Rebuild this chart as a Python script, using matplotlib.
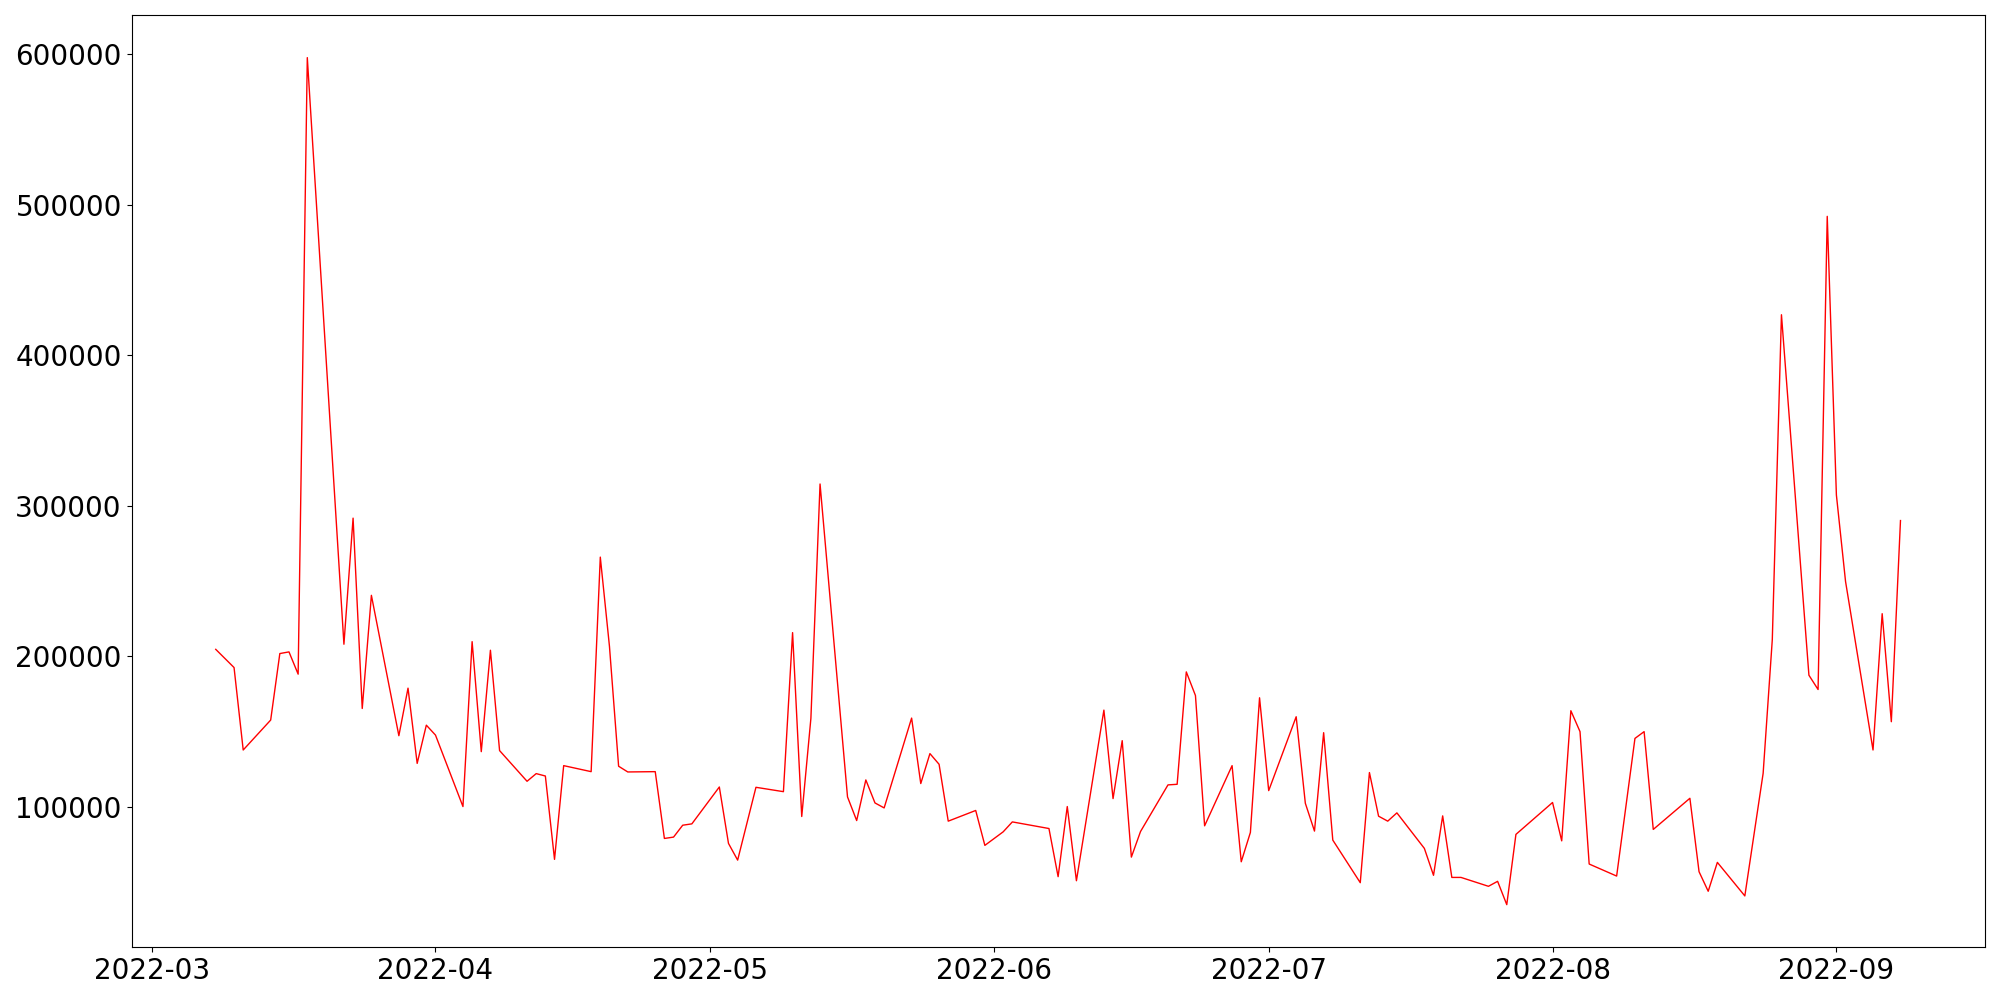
import numpy as np
import pandas as pd
import matplotlib
matplotlib.use("Agg")
import matplotlib.pyplot as plt

# trading days (weekdays, some holidays missing)
dates = [
    "2022-03-08", "2022-03-10", "2022-03-11", "2022-03-14", "2022-03-15", "2022-03-16",
    "2022-03-17", "2022-03-18", "2022-03-22", "2022-03-23", "2022-03-24", "2022-03-25",
    "2022-03-28", "2022-03-29", "2022-03-30", "2022-03-31", "2022-04-01",
    "2022-04-04", "2022-04-05", "2022-04-06", "2022-04-07", "2022-04-08",
    "2022-04-11", "2022-04-12", "2022-04-13", "2022-04-14", "2022-04-15",
    "2022-04-18", "2022-04-19", "2022-04-20", "2022-04-21", "2022-04-22",
    "2022-04-25", "2022-04-26", "2022-04-27", "2022-04-28", "2022-04-29",
    "2022-05-02", "2022-05-03", "2022-05-04", "2022-05-06",
    "2022-05-09", "2022-05-10", "2022-05-11", "2022-05-12", "2022-05-13",
    "2022-05-16", "2022-05-17", "2022-05-18", "2022-05-19", "2022-05-20",
    "2022-05-23", "2022-05-24", "2022-05-25", "2022-05-26", "2022-05-27",
    "2022-05-30", "2022-05-31", "2022-06-02", "2022-06-03",
    "2022-06-07", "2022-06-08", "2022-06-09", "2022-06-10",
    "2022-06-13", "2022-06-14", "2022-06-15", "2022-06-16", "2022-06-17",
    "2022-06-20", "2022-06-21", "2022-06-22", "2022-06-23", "2022-06-24",
    "2022-06-27", "2022-06-28", "2022-06-29", "2022-06-30", "2022-07-01",
    "2022-07-04", "2022-07-05", "2022-07-06", "2022-07-07", "2022-07-08",
    "2022-07-11", "2022-07-12", "2022-07-13", "2022-07-14", "2022-07-15",
    "2022-07-18", "2022-07-19", "2022-07-20", "2022-07-21", "2022-07-22",
    "2022-07-25", "2022-07-26", "2022-07-27", "2022-07-28",
    "2022-08-01", "2022-08-02", "2022-08-03", "2022-08-04", "2022-08-05",
    "2022-08-08", "2022-08-10", "2022-08-11", "2022-08-12",
    "2022-08-16", "2022-08-17", "2022-08-18", "2022-08-19",
    "2022-08-22", "2022-08-24", "2022-08-25", "2022-08-26",
    "2022-08-29", "2022-08-30", "2022-08-31", "2022-09-01", "2022-09-02",
    "2022-09-05", "2022-09-06", "2022-09-07", "2022-09-08",
]

volume = [
    204600, 192500, 137700, 157600, 201800, 202900,
    188100, 597900, 208000, 291800, 165300, 240500,
    147200, 178800, 128800, 154200, 147600,
    100100, 209700, 136600, 204000, 137300,
    116900, 122000, 120400, 65000, 127300,
    123300, 265900, 206600, 126900, 123100,
    123300, 78900, 79800, 87700, 88600,
    113100, 75600, 64500, 112900,
    110000, 215700, 93500, 158700, 314500,
    106500, 90800, 117800, 102500, 99200,
    158900, 115400, 135300, 128200, 90400,
    97500, 74300, 83300, 89900,
    85500, 53500, 100100, 50800,
    164200, 105400, 143900, 66500, 83500,
    114500, 114900, 189600, 173900, 87300,
    127300, 63400, 82900, 172400, 110700,
    159800, 102300, 83800, 149200, 77800,
    49500, 122700, 93700, 90400, 95900,
    72300, 54400, 93900, 53000, 53000,
    47100, 50400, 34900, 81600,
    102800, 77300, 163800, 149900, 61900,
    53900, 145400, 149900, 84900,
    105600, 56800, 43800, 63000,
    40700, 122200, 211100, 427000,
    187400, 177900, 492400, 307200, 249700,
    137700, 228300, 156500, 290200,
]

x = pd.to_datetime(dates)

plt.rcParams['font.size'] = 20
fig, ax = plt.subplots(figsize=(20, 10), dpi=100)
ax.plot(x, volume, color='red', linewidth=1)
fig.tight_layout(pad=0.55)
fig.savefig("out.png")
